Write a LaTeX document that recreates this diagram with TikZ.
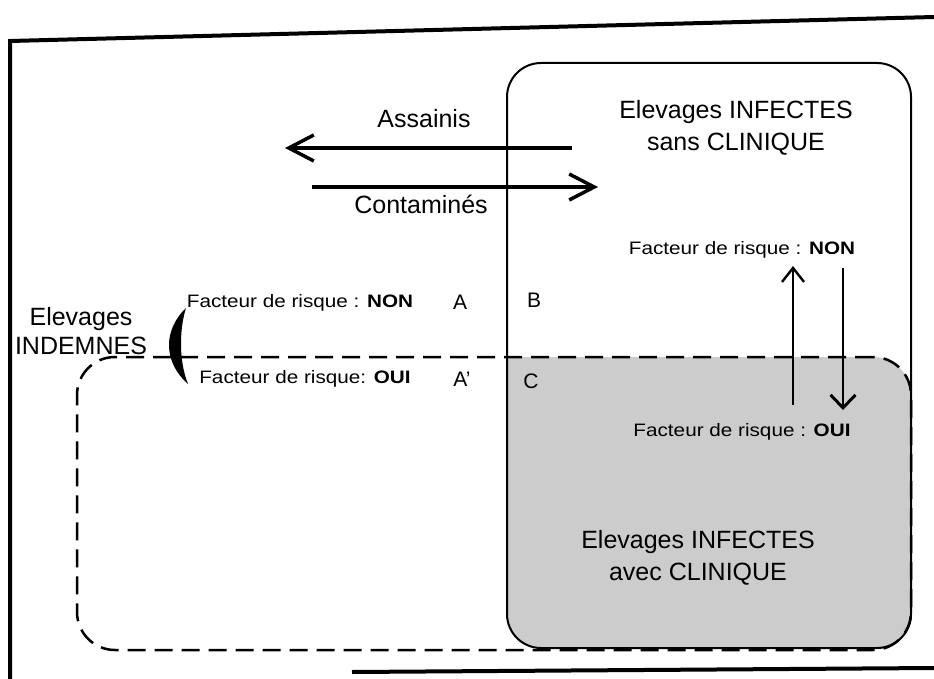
\documentclass[tikz,border=0pt]{standalone}
\usepackage{fontspec}
\setmainfont{Liberation Sans}
\newfontfamily\facteurfont[FakeStretch=1.15]{Liberation Sans}
\usetikzlibrary{arrows.meta}
\pgfdeclarelayer{background}
\pgfsetlayers{background,main}
\tikzset{
  titre/.style={font=\fontsize{25}{32}\selectfont,align=center,inner sep=0pt},
  facteur/.style={font=\facteurfont\fontsize{18}{22}\selectfont,inner sep=0pt},
  lettre/.style={font=\fontsize{21}{25}\selectfont,inner sep=0pt},
  flux/.style={line width=3.3pt,-{Straight Barb[length=25pt,width=26pt,line width=3.5pt]}},
  bascule/.style={line width=1.8pt},
  cadre/.style={line width=4pt},
  infecte/.style={draw,line width=2pt,rounded corners=34pt,outer sep=0pt,inner sep=0pt},
  risquebox/.style={draw,line width=2.5pt,dash pattern=on 18pt off 9pt,rounded corners=38pt,outer sep=0pt,inner sep=0pt}
}

\begin{document}
\begin{tikzpicture}[x=1pt,y=-1pt]
  \useasboundingbox (0,0) rectangle (934,679);
  % cadre
  \draw[cadre] (10,679) -- (10,41) -- (934,17);
  \draw[cadre] (352,672) -- (934,668);
  % les deux ensembles
  \node[infecte,minimum width=404pt,minimum height=585pt] (infectes) at (709,355.5) {};
  \node[risquebox,minimum width=834pt,minimum height=293pt] (risque) at (494,503.5) {};
  \begin{pgfonlayer}{background}
    \begin{scope}
      \clip[rounded corners=38pt] (risque.north west) rectangle (risque.south east);
      \fill[black!20,rounded corners=34pt] (infectes.north west) rectangle (infectes.south east);
    \end{scope}
  \end{pgfonlayer}
  % textes
  \node[titre] (sansclin) at (736,128) {Elevages INFECTES\\sans CLINIQUE};
  \node[titre] (avecclin) at (698,558) {Elevages INFECTES\\avec CLINIQUE};
  \node[titre,font=\fontsize{25}{29}\selectfont] (indemnes) at (81,331) {Elevages\\INDEMNES};
  \node[titre] (assainis) at (424,119) {Assainis};
  \node[titre] (contamines) at (421,204) {Contaminés};
  \node[facteur] (nonD) at (742,250) {Facteur de risque : \textbf{NON}};
  \node[facteur] (ouiD) at (742,432) {Facteur de risque : \textbf{OUI}};
  \node[facteur] (nonG) at (300,303) {Facteur de risque : \textbf{NON}};
  \node[facteur] (ouiG) at (305,379) {Facteur de risque: \textbf{OUI}};
  \node[lettre] (A) at (460,302) {A};
  \node[lettre] (A2) at (462,379) {A'};
  \node[lettre] (B) at (534,300) {B};
  \node[lettre] (C) at (531,381) {C};
  % parenthese
  \fill (186,308) .. controls (163,330) and (163,362) .. (188,384)
    .. controls (179,362) and (179,330) .. (186,308) -- cycle;
  % fleches
  \coordinate (assD) at (572,148);
  \coordinate (assG) at (285,148);
  \coordinate (conG) at (312,187);
  \coordinate (conD) at (598,187);
  \draw[flux] (assD) -- (assG);
  \draw[flux] (conG) -- (conD);
  \coordinate (monteB) at (793,405);
  \coordinate (monteH) at (793,266);
  \coordinate (descH) at (843,268);
  \coordinate (descB) at (843,410);
  \draw[bascule,-{Straight Barb[length=14pt,width=22pt,line width=2.4pt]}] (monteB) -- (monteH);
  \draw[bascule,-{Straight Barb[length=13pt,width=25pt,line width=3pt]}] (descH) -- (descB);
\end{tikzpicture}
\end{document}
